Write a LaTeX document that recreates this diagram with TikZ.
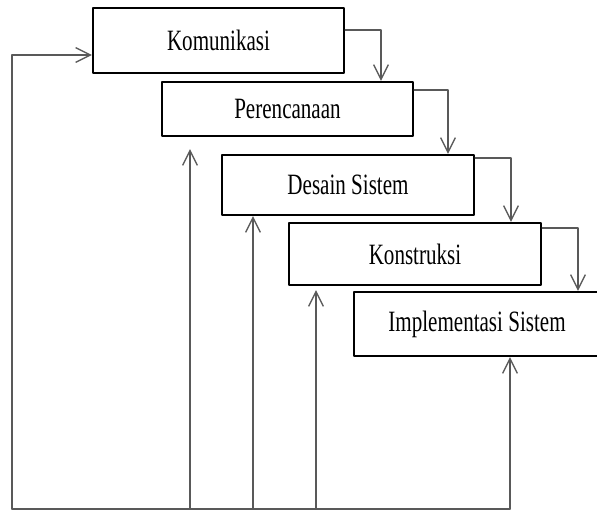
\documentclass[tikz,border=0pt]{standalone}
\usepackage{fontspec}
\setmainfont{Liberation Serif}
\usetikzlibrary{arrows.meta}

% stretched label text, as in the source drawing
\newcommand{\tall}[1]{\scalebox{1}[1.4]{#1}}

\begin{document}
\begin{tikzpicture}[x=0.75pt, y=-0.75pt, line cap=round, line join=round,
  stage/.style={draw, line width=1.8pt, fill=white, inner sep=0pt,
    font=\fontsize{15.8}{18}\selectfont},
  flow/.style={draw=black!65, line width=1pt,
    -{Straight Barb[length=11pt, width=11pt, line width=1pt]}},
  link/.style={draw=black!65, line width=1pt}]
  \useasboundingbox (0,0) rectangle (597,511);

  % Waterfall stages
  \node[stage, minimum width=251*0.75pt, minimum height=65*0.75pt] (kom) at (218.5,40.5) {\tall{Komunikasi}};
  \node[stage, minimum width=251*0.75pt, minimum height=54*0.75pt] (per) at (287.5,109) {\tall{Perencanaan}};
  \node[stage, minimum width=252*0.75pt, minimum height=60*0.75pt] (des) at (348,185) {\tall{Desain Sistem}};
  \node[stage, minimum width=252*0.75pt, minimum height=62*0.75pt] (kon) at (415,254) {\tall{Konstruksi}};
  \node[stage, minimum width=246*0.75pt, minimum height=64*0.75pt] (imp) at (477,324) {\tall{Implementasi Sistem}};

  % Step-down arrows
  \coordinate (t1) at (381,30);
  \coordinate (t2) at (448,90);
  \coordinate (t3) at (511,158);
  \coordinate (t4) at (578,228);
  \draw[flow] (kom.east |- t1) -| (t1 |- per.north);
  \draw[flow] (per.east |- t2) -| (t2 |- des.north);
  \draw[flow] (des.east |- t3) -| (t3 |- kon.north);
  \draw[flow] (kon.east |- t4) -| (t4 |- imp.north);

  % Feedback lines along the bottom
  \coordinate (b0) at (12,509);
  \coordinate (b1) at (190,509);
  \coordinate (b2) at (253,509);
  \coordinate (b3) at (316,509);
  \coordinate (b4) at (510,509);
  \coordinate (k0) at (12,55);
  \draw[link] (b0) -- (b4);
  \draw[flow] (b0) -- (k0) -- (kom.west |- k0);
  \draw[flow, shorten >=9pt] (b1) -- (b1 |- per.south);
  \draw[flow] (b2) -- (b2 |- des.south);
  \draw[flow, shorten >=3pt] (b3) -- (b3 |- kon.south);
  \draw[flow] (b4) -- (b4 |- imp.south);
\end{tikzpicture}
\end{document}
